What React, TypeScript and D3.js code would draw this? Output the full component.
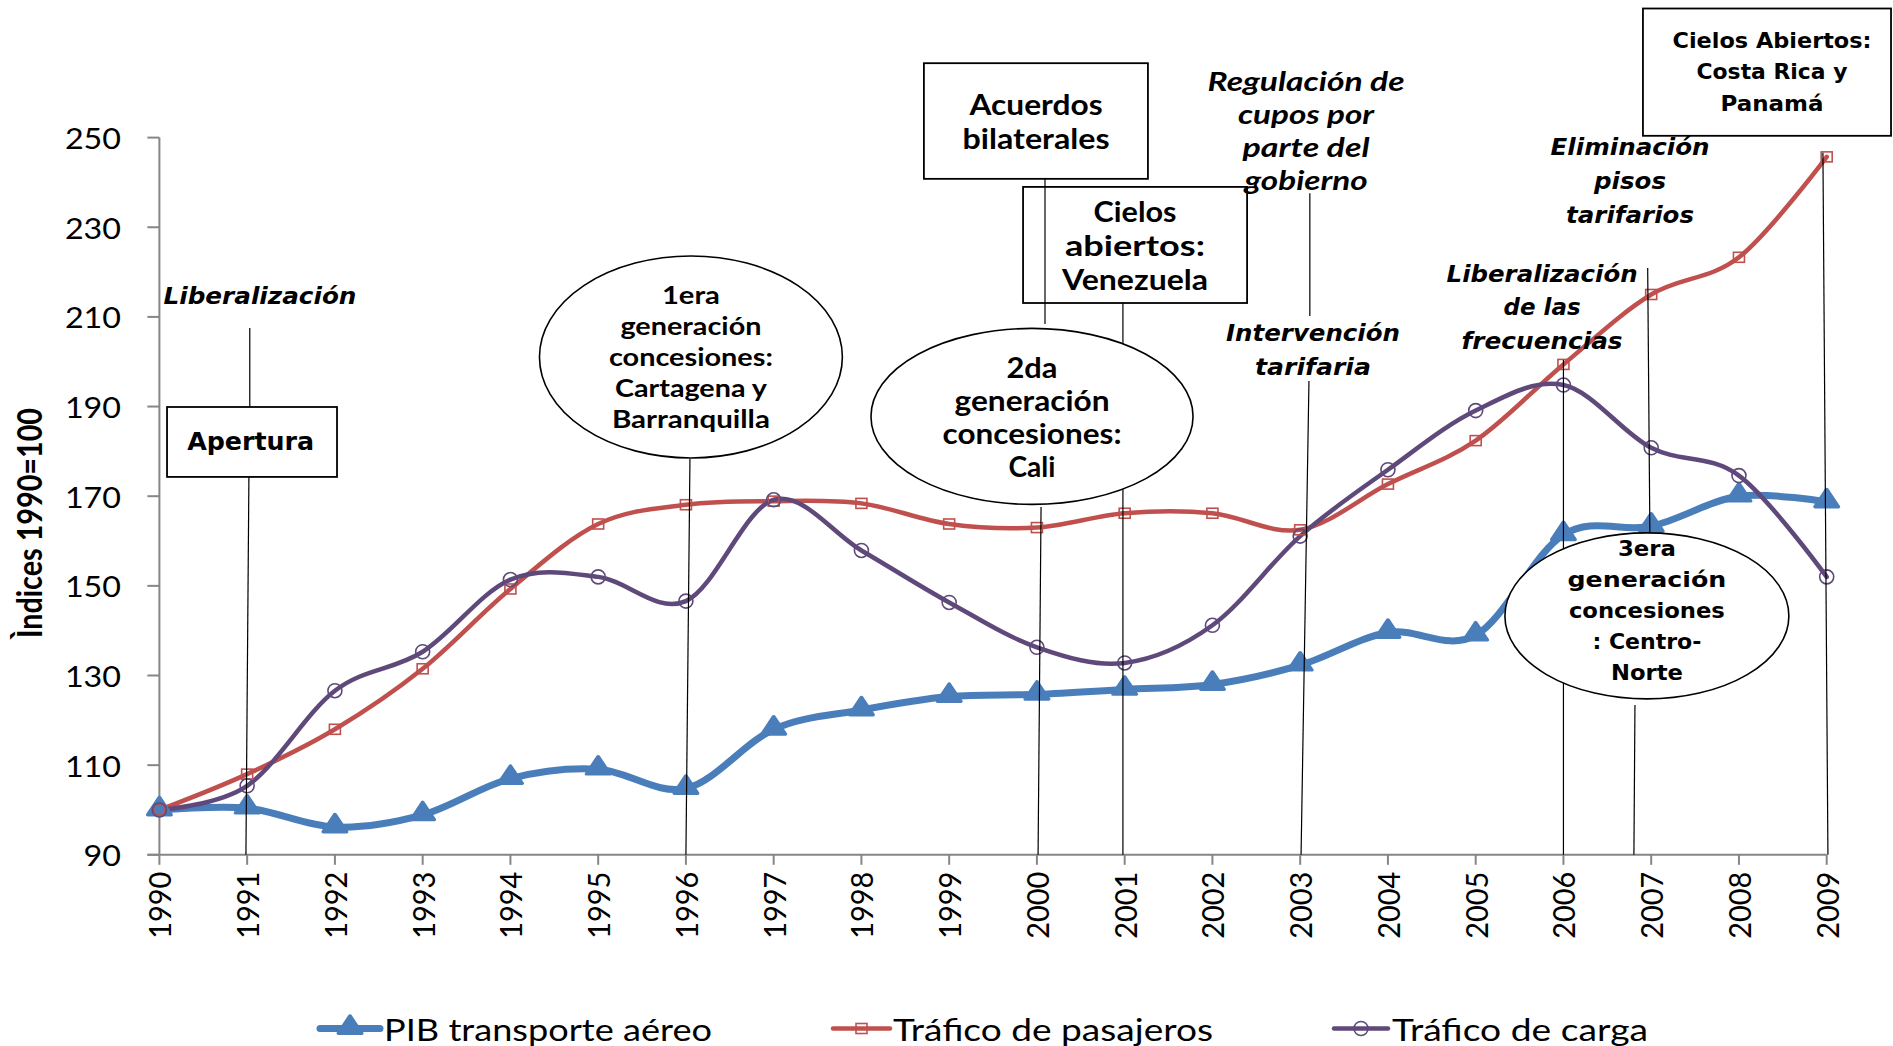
import React from "react";
import * as d3 from "d3";

// ---------- data ----------
const years = [1990, 1991, 1992, 1993, 1994, 1995, 1996, 1997, 1998, 1999, 2000, 2001, 2002, 2003, 2004, 2005, 2006, 2007, 2008, 2009];
const pibTransporte = [100, 100.4, 96.2, 98.9, 107, 109.1, 104.8, 118, 122.3, 125.3, 125.8, 126.9, 128, 132.3, 139.6, 139, 161.4, 163.3, 170, 168.7];
const traficoPasajeros = [100, 108, 118, 131.5, 149.3, 163.8, 168.1, 168.9, 168.4, 163.8, 163, 166.2, 166.2, 162.5, 172.7, 182.4, 199.4, 215, 223.3, 245.7];
const traficoCarga = [100, 105.4, 126.6, 135.3, 151.4, 152, 146.6, 169.2, 157.9, 146.3, 136.3, 132.8, 141.2, 161.1, 175.9, 189.1, 194.8, 180.8, 174.6, 152];
const yTickValues = [90, 110, 130, 150, 170, 190, 210, 230, 250];
const seriesNames = ["PIB transporte aéreo", "Tráfico de pasajeros", "Tráfico de carga"];
const yTitle = "Ìndices 1990=100";

// annotation content (positions in data units: year, index)
const leaders = [
  [1991.03, 207.5, 1991.03, 189.9],
  [1991.02, 174.3, 1990.986, 90],
  [1996.046, 178.3, 1996.0, 90],
  [2000.092, 240.8, 2000.092, 208.4],
  [2000.98, 213.1, 2000.98, 90],
  [2000.047, 167.6, 2000.013, 90],
  [2003.11, 237.6, 2003.11, 210.2],
  [2003.1, 195.7, 2003.01, 90],
  [2006.96, 220.9, 2006.99, 150],
  [2006.0, 200.4, 2006.0, 90],
  [2006.815, 123.4, 2006.803, 90],
  [2008.957, 246.6, 2009.014, 90],
];
const boxes = [
  { x1: 1990.087, x2: 1992.024, y1: 189.9, y2: 174.3, fill: "#fff" },
  { x1: 1998.712, x2: 2001.265, y1: 266.6, y2: 240.8, fill: "#fff" },
  { x1: 1999.842, x2: 2002.395, y1: 239.0, y2: 213.1, fill: "none" },
  { x1: 2006.906, x2: 2009.733, y1: 278.8, y2: 250.4, fill: "#fff" },
];
const ellipses = [
  { cx: 1996.057, cy: 201.06, rx: 1.726, ry: 22.53 },
  { cx: 1999.944, cy: 187.8, rx: 1.835, ry: 19.63 },
  { cx: 2006.951, cy: 143.3, rx: 1.618, ry: 18.52 },
];
const labels = [
  { cx: 1991.146, cy: 214.7, lines: ["Liberalización"], widths: [193], v: true, it: true, size: 23, sp: 0, off: 0 },
  { cx: 1991.04, cy: 182.1, lines: ["Apertura"], widths: [127], v: true, it: false, size: 24, sp: 0, off: 0 },
  { cx: 1996.057, cy: 201.06, lines: ["1era", "generación", "concesiones:", "Cartagena y", "Barranquilla"], widths: [58, 141, 164, 152, 158], v: false, it: false, size: 25, sp: 31, off: -1 },
  { cx: 1999.99, cy: 253.7, lines: ["Acuerdos", "bilaterales"], widths: [133, 147], v: false, it: false, size: 28, sp: 34, off: 0 },
  { cx: 2001.118, cy: 226.0, lines: ["Cielos", "abiertos:", "Venezuela"], widths: [83, 140, 146], v: false, it: false, size: 28, sp: 34, off: 0 },
  { cx: 1999.944, cy: 187.8, lines: ["2da", "generación", "concesiones:", "Cali"], widths: [51, 155, 179, 47], v: false, it: false, size: 29, sp: 33, off: 0 },
  { cx: 2003.067, cy: 251.7, lines: ["Regulación de", "cupos por", "parte del", "gobierno"], widths: [197, 136, 127, 123], v: false, it: true, size: 27, sp: 33.3, off: 0 },
  { cx: 2003.146, cy: 202.6, lines: ["Intervención", "tarifaria"], widths: [174, 116], v: true, it: true, size: 23, sp: 34, off: 0 },
  { cx: 2006.759, cy: 240.3, lines: ["Eliminación", "pisos", "tarifarios"], widths: [159, 72, 128], v: true, it: true, size: 23, sp: 34, off: 0 },
  { cx: 2005.757, cy: 212.2, lines: ["Liberalización", "de las", "frecuencias"], widths: [191, 77, 161], v: true, it: true, size: 23, sp: 33.5, off: 0 },
  { cx: 2006.951, cy: 143.3, lines: ["3era", "generación", "concesiones", ": Centro-", "Norte"], widths: [58, 159, 156, 109, 72], v: true, it: false, size: 21, sp: 31, off: -5 },
  { cx: 2008.377, cy: 264.6, lines: ["Cielos Abiertos:", "Costa Rica y", "Panamá"], widths: [199, 151, 103], v: true, it: false, size: 21, sp: 31.5, off: 0 },
];

// ---------- layout ----------
const W = 1893;
const H = 1046;
const x = d3.scaleLinear().domain([1990, 2009]).range([159.4, 1826.7]);
const y = d3.scaleLinear().domain([90, 250]).range([854.8, 137.6]);
const CAL = "Lato, 'Open Sans', sans-serif";
const VER = "'DejaVu Sans', Verdana, sans-serif";
const AXIS = "#868686";
const BLUE = "#4A7EBB";
const RED = "#C0504D";
const PURPLE = "#5F497A";

const line = d3
  .line<number>()
  .x((_, i) => x(years[i]))
  .y((d) => y(d))
  .curve(d3.curveCardinal.tension(0));

const triPath = d3.symbol().type(d3.symbolTriangle).size(150)() as string;

function Tri({ cx, cy }: { cx: number; cy: number }) {
  return (
    <path
      d={triPath}
      transform={`translate(${cx},${cy - 1}) scale(1.25,1.08)`}
      fill={BLUE}
      stroke={BLUE}
      strokeWidth={3}
      strokeLinejoin="round"
    />
  );
}
function Sq({ cx, cy }: { cx: number; cy: number }) {
  return <rect x={cx - 5.5} y={cy - 5} width={11} height={10} fill="none" stroke={RED} strokeWidth={1.6} />;
}
function Circ({ cx, cy }: { cx: number; cy: number }) {
  return <circle cx={cx} cy={cy} r={7} fill="none" stroke={PURPLE} strokeWidth={1.6} />;
}

const series = [
  { name: seriesNames[0], values: pibTransporte, color: BLUE, width: 7, Marker: Tri },
  { name: seriesNames[1], values: traficoPasajeros, color: RED, width: 4.5, Marker: Sq },
  { name: seriesNames[2], values: traficoCarga, color: PURPLE, width: 4.5, Marker: Circ },
];
const legendPos = [
  { x1: 320, x2: 380, tx: 384, tl: 328 },
  { x1: 833, x2: 890, tx: 893, tl: 320 },
  { x1: 1334, x2: 1388, tx: 1392, tl: 256 },
];

export default function App() {
  const x0 = x(1990);
  const x1 = x(2009);
  return (
    <svg
      width={W}
      height={H}
      viewBox={`0 0 ${W} ${H}`}
      style={{ position: "absolute", left: 0, top: 0, background: "#fff" }}
    >
      <rect width={W} height={H} fill="#fff" />
      {/* y axis */}
      <line x1={x0} x2={x0} y1={y(250)} y2={y(90)} stroke={AXIS} strokeWidth={2} />
      {yTickValues.map((t) => (
        <g key={t}>
          <line x1={x0 - 12} x2={x0} y1={y(t)} y2={y(t)} stroke={AXIS} strokeWidth={2} />
          <text
            x={121}
            y={y(t)}
            textAnchor="end"
            dominantBaseline="central"
            fontFamily={CAL}
            fontSize={29}
            textLength={String(t).length * 18.7}
            lengthAdjust="spacingAndGlyphs"
            fill="#000"
          >
            {t}
          </text>
        </g>
      ))}
      {/* x axis */}
      <line x1={x0 - 12} x2={x1} y1={y(90)} y2={y(90)} stroke={AXIS} strokeWidth={2} />
      {years.map((yr) => (
        <g key={yr}>
          <line x1={x(yr)} x2={x(yr)} y1={y(90)} y2={y(90) + 10} stroke={AXIS} strokeWidth={2} />
          <text
            transform={`translate(${x(yr)},${y(90) + 17}) rotate(-90)`}
            textAnchor="end"
            dominantBaseline="central"
            fontFamily={CAL}
            fontSize={30}
            textLength={67}
            lengthAdjust="spacingAndGlyphs"
            fill="#000"
          >
            {yr}
          </text>
        </g>
      ))}
      {/* y title */}
      <text
        transform={`translate(28,523) rotate(-90)`}
        textAnchor="middle"
        dominantBaseline="central"
        fontFamily={CAL}
        fontWeight="bold"
        fontSize={35}
        textLength={230}
        lengthAdjust="spacingAndGlyphs"
      >
        {yTitle}
      </text>

      {/* series */}
      {series.map((s) => (
        <path key={s.name} d={line(s.values) as string} fill="none" stroke={s.color} strokeWidth={s.width} strokeLinecap="round" />
      ))}
      {series.map((s) =>
        s.values.map((v, i) => <s.Marker key={s.name + i} cx={x(years[i])} cy={y(v)} />)
      )}

      {/* leader lines */}
      {leaders.map((l, i) => (
        <line key={i} x1={x(l[0])} y1={y(l[1])} x2={x(l[2])} y2={y(l[3])} stroke="#000" strokeWidth={1.2} />
      ))}
      {/* boxes */}
      {boxes.map((b, i) => (
        <rect
          key={i}
          x={x(b.x1)}
          y={y(b.y1)}
          width={x(b.x2) - x(b.x1)}
          height={y(b.y2) - y(b.y1)}
          fill={b.fill}
          stroke="#000"
          strokeWidth={1.8}
        />
      ))}
      {/* ellipses */}
      {ellipses.map((e, i) => (
        <ellipse
          key={i}
          cx={x(e.cx)}
          cy={y(e.cy)}
          rx={x(e.cx + e.rx) - x(e.cx)}
          ry={y(e.cy - e.ry) - y(e.cy)}
          fill="#fff"
          stroke="#000"
          strokeWidth={1.6}
        />
      ))}
      {/* annotation labels */}
      {labels.map((a, i) => {
        const n = a.lines.length;
        return (
          <g key={i}>
            {a.lines.map((ln, j) => (
              <text
                key={j}
                x={x(a.cx)}
                y={y(a.cy) + a.off + (j - (n - 1) / 2) * a.sp}
                textAnchor="middle"
                dominantBaseline="central"
                fontFamily={a.v ? VER : CAL}
                fontWeight="bold"
                fontStyle={a.it ? "italic" : "normal"}
                fontSize={a.size}
                textLength={a.widths[j]}
                lengthAdjust="spacingAndGlyphs"
                fill="#000"
              >
                {ln}
              </text>
            ))}
          </g>
        );
      })}

      {/* legend */}
      {series.map((s, i) => {
        const p = legendPos[i];
        const cy = 1028.5;
        return (
          <g key={s.name}>
            <line x1={p.x1} x2={p.x2} y1={cy} y2={cy} stroke={s.color} strokeWidth={s.width} strokeLinecap="round" />
            <s.Marker cx={(p.x1 + p.x2) / 2} cy={cy} />
            <text
              x={p.tx}
              y={cy}
              dominantBaseline="central"
              fontFamily={CAL}
              fontSize={31}
              textLength={p.tl}
              lengthAdjust="spacingAndGlyphs"
              fill="#000"
            >
              {s.name}
            </text>
          </g>
        );
      })}
    </svg>
  );
}
